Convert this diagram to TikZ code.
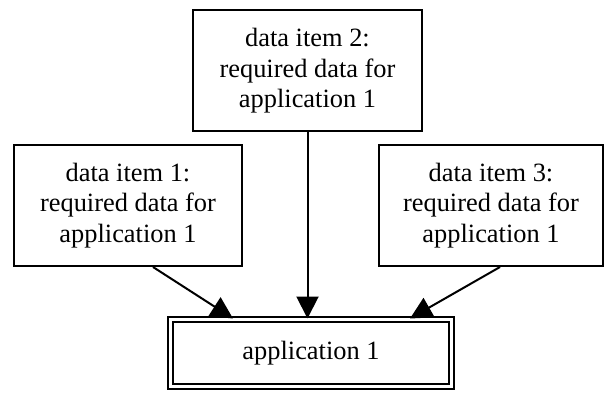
\documentclass[tikz,border=0pt]{standalone}
\usepackage{fontspec}
\setmainfont{Liberation Serif}
\newfontfamily\labelfont{Liberation Serif}
\usetikzlibrary{arrows.meta,positioning}

\tikzstyle{block} = [draw, rectangle, line width=2pt, align=center, minimum height=121pt, font=\labelfont\fontsize{26.4}{30.5}\selectfont]
\tikzstyle{appblock} = [draw, rectangle, double, line width=2pt, double distance=2.4pt, minimum width=281pt, minimum height=67pt, font=\labelfont\fontsize{26.4}{30.5}\selectfont]
\tikzstyle{link} = [-{Triangle[length=22pt,width=22pt]}, line width=2pt]

\begin{document}
\begin{tikzpicture}[x=1pt, y=1pt]
    \useasboundingbox (0,0) rectangle (608,394);
    \node [appblock] (app) at (311,41) {application 1};
    \node [block, minimum width=229pt] (item2) at (307.5,323) {data item 2:\\ required data for\\ application 1};
    \node [block, minimum width=228pt] (item1) at (128,188.5) {data item 1:\\ required data for\\ application 1};
    \node [block, minimum width=224pt] (item3) at (491,188.5) {data item 3:\\ required data for\\ application 1};

    \draw [link] ([xshift=25pt]item1.south) -- ([xshift=-78pt]app.north);
    \draw [link] (item2.south) -- (item2.south |- app.north);
    \draw [link] ([xshift=9pt]item3.south) -- ([xshift=99pt]app.north);
\end{tikzpicture}
\end{document}
